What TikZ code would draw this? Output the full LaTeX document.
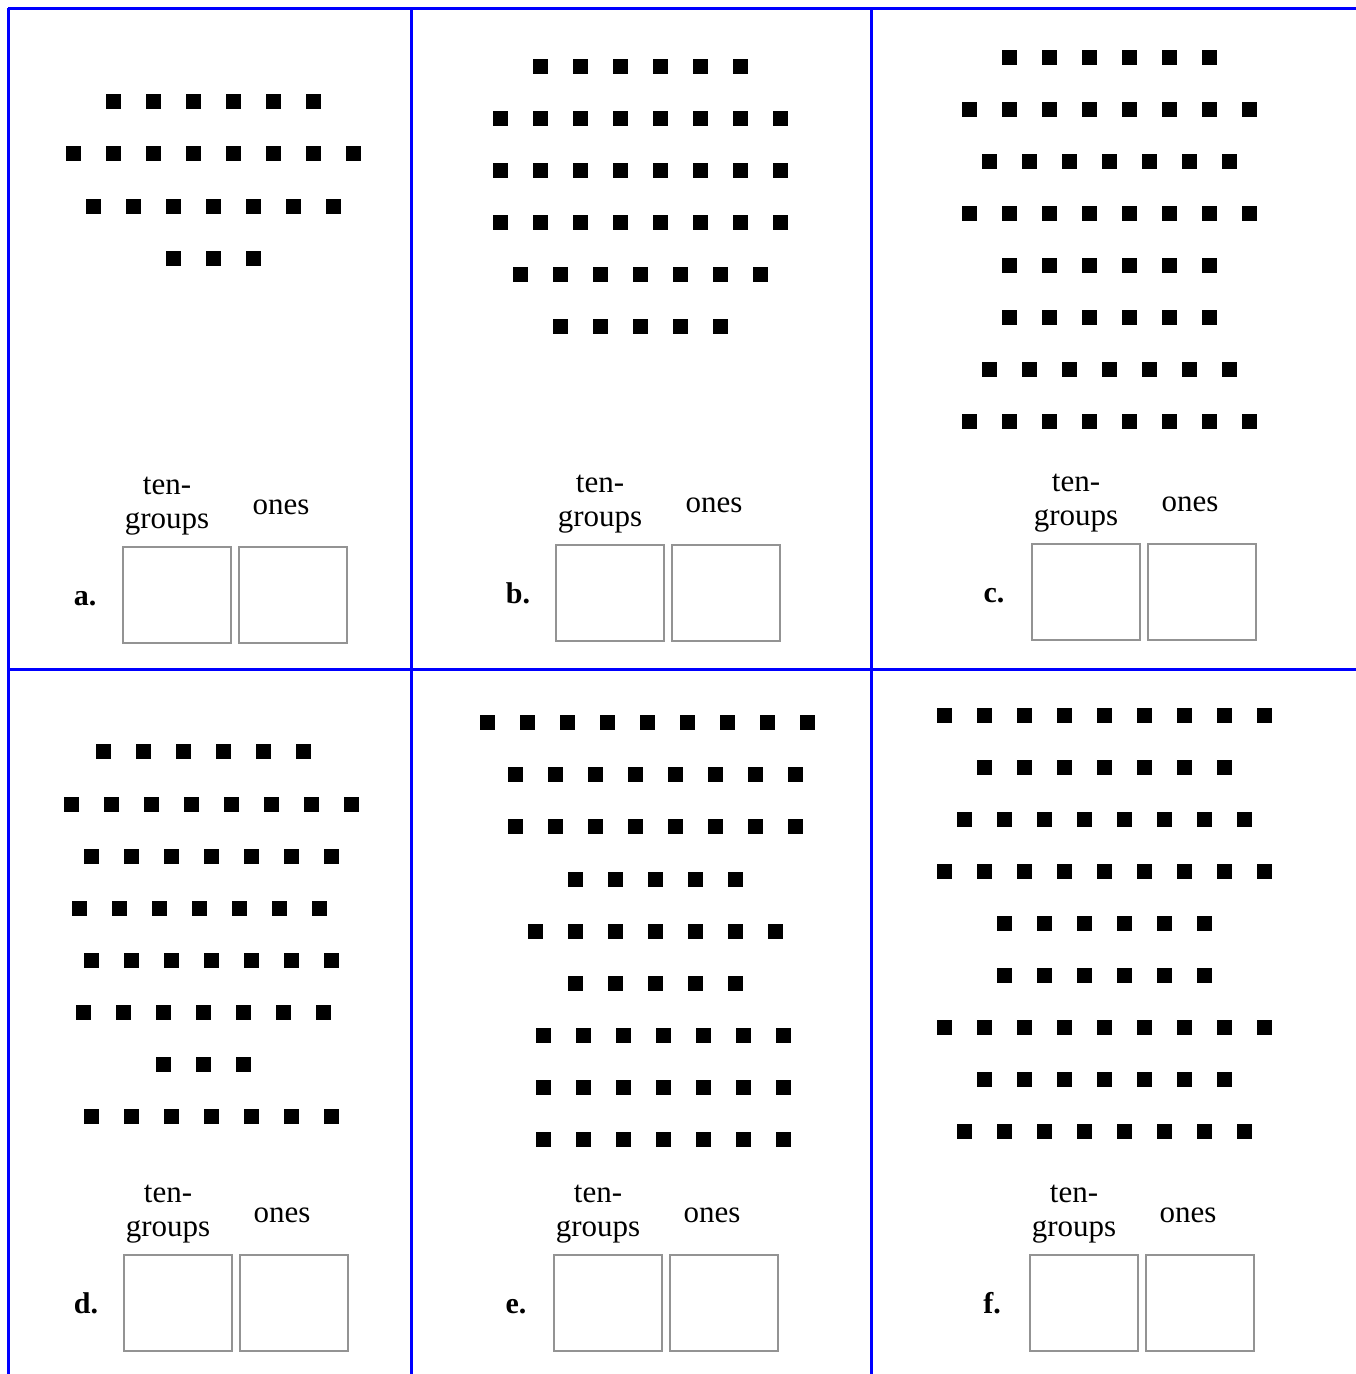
\documentclass[tikz,border=0pt]{standalone}
\usepackage{fontspec}
\setmainfont{Liberation Serif}
\usetikzlibrary{positioning}

% one row of counting squares: first x, y, how many
\newcommand{\dotrow}[3]{%
  \foreach \k in {1,...,#3}
    \fill ({#1+40*(\k-1)-7.5},{#2-7.5}) rectangle ++(15,15);%
}

% the two answer boxes with their heads: name, letter, box left x, box top y
\newcommand{\answerpanel}[4]{%
  \node[answerbox] (#1-tens) at ({#3+55},{#4+49}) {};
  \node[answerbox, right=6pt of #1-tens] (#1-ones) {};
  \node[tag, anchor=base] (#1-tag) at ({#3-37},{#4+59}) {#2};
  \node[head] (#1-tenhead) at ({#3+45},{#4-40}) {ten-\\groups};
  \node[head] (#1-onehead) at ({#3+159},{#4-39}) {ones};
}

\begin{document}
\begin{tikzpicture}[
    x=1pt, y=-1pt,
    grid/.style={draw=blue, line width=3pt},
    answerbox/.style={draw=gray!85, line width=2pt, minimum width=108pt, minimum height=96pt, inner sep=0pt},
    tag/.style={font=\fontsize{30}{34}\selectfont\bfseries, inner sep=0pt},
    head/.style={font=\fontsize{31}{34}\selectfont, align=center, inner sep=0pt}
]
    \fill[white] (0,0) rectangle (1356,1374);
    \useasboundingbox (0,0) rectangle (1356,1374);

    % --- blue table lines ---
    \draw[grid] (8,8) -- (1356,8);
    \draw[grid] (8,669) -- (1356,669);
    \draw[grid] (8,8) -- (8,1374);
    \draw[grid] (411,8) -- (411,1374);
    \draw[grid] (871,8) -- (871,1374);

    % --- a. ---
    \dotrow{113}{101}{6}
    \dotrow{73}{153}{8}
    \dotrow{93}{206}{7}
    \dotrow{173}{258}{3}
    \answerpanel{a}{a.}{122}{546}

    % --- b. ---
    \dotrow{540}{66}{6}
    \dotrow{500}{118}{8}
    \dotrow{500}{170}{8}
    \dotrow{500}{222}{8}
    \dotrow{520}{274}{7}
    \dotrow{560}{326}{5}
    \answerpanel{b}{b.}{555}{544}

    % --- c. ---
    \dotrow{1009}{57}{6}
    \dotrow{969}{109}{8}
    \dotrow{989}{161}{7}
    \dotrow{969}{213}{8}
    \dotrow{1009}{265}{6}
    \dotrow{1009}{317}{6}
    \dotrow{989}{369}{7}
    \dotrow{969}{421}{8}
    \answerpanel{c}{c.}{1031}{543}

    % --- d. ---
    \dotrow{103}{751}{6}
    \dotrow{71}{804}{8}
    \dotrow{91}{856}{7}
    \dotrow{79}{908}{7}
    \dotrow{91}{960}{7}
    \dotrow{83}{1012}{7}
    \dotrow{163}{1064}{3}
    \dotrow{91}{1116}{7}
    \answerpanel{d}{d.}{123}{1254}

    % --- e. ---
    \dotrow{487}{722}{9}
    \dotrow{515}{774}{8}
    \dotrow{515}{826}{8}
    \dotrow{575}{879}{5}
    \dotrow{535}{931}{7}
    \dotrow{575}{983}{5}
    \dotrow{543}{1035}{7}
    \dotrow{543}{1087}{7}
    \dotrow{543}{1139}{7}
    \answerpanel{e}{e.}{553}{1254}

    % --- f. ---
    \dotrow{944}{715}{9}
    \dotrow{984}{767}{7}
    \dotrow{964}{819}{8}
    \dotrow{944}{871}{9}
    \dotrow{1004}{923}{6}
    \dotrow{1004}{975}{6}
    \dotrow{944}{1027}{9}
    \dotrow{984}{1079}{7}
    \dotrow{964}{1131}{8}
    \answerpanel{f}{f.}{1029}{1254}

\end{tikzpicture}
\end{document}
